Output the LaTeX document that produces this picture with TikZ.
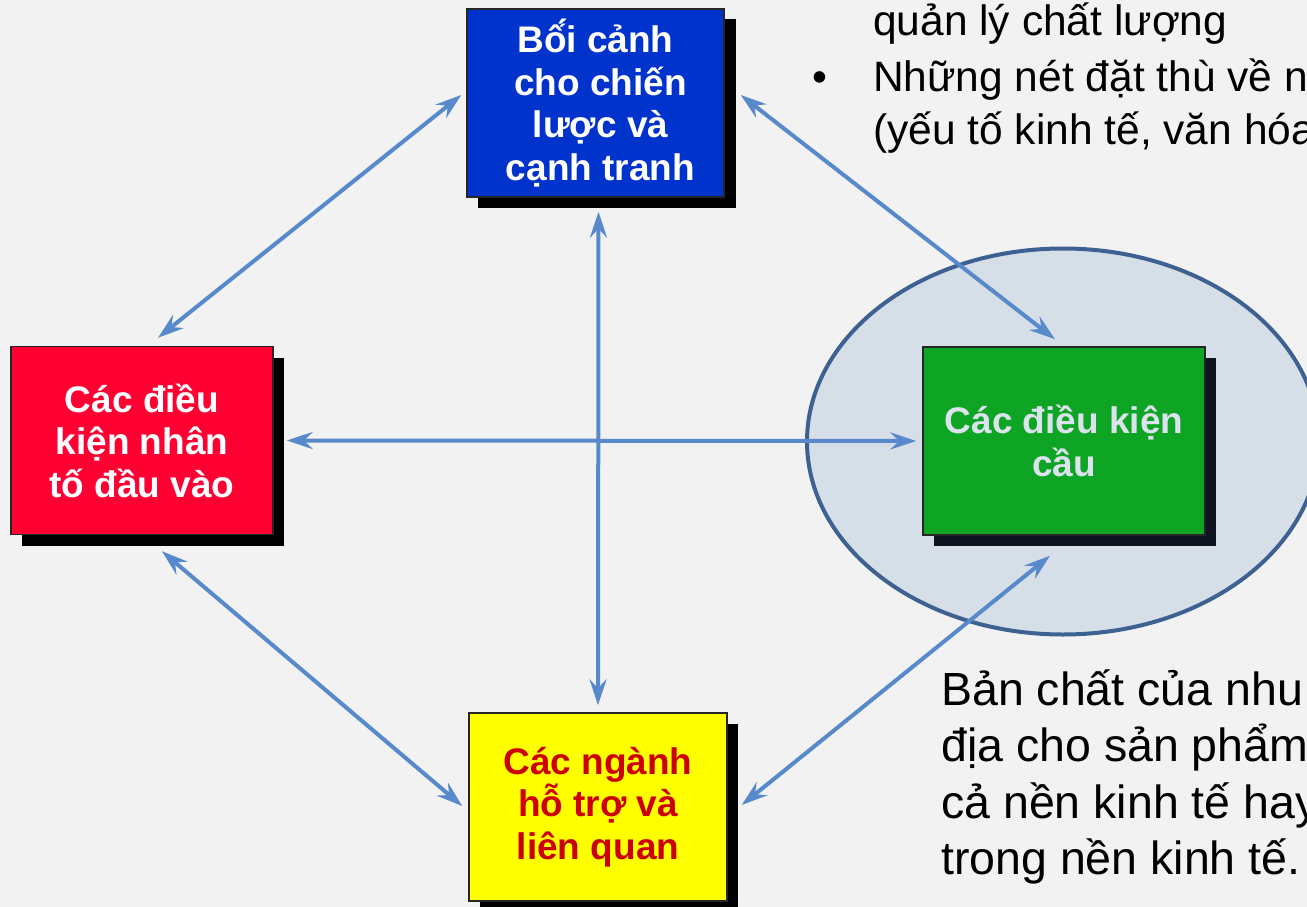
\documentclass[tikz,border=0pt]{standalone}
\usepackage{fontspec}
\setmainfont{Liberation Sans}
\usetikzlibrary{arrows.meta,calc}
\definecolor{bg}{HTML}{F2F2F2}
\definecolor{link}{HTML}{5789CB}
\definecolor{boxblue}{HTML}{0033CC}
\definecolor{boxred}{HTML}{FF0033}
\definecolor{boxyellow}{HTML}{FFFF00}
\definecolor{boxgreen}{HTML}{0DA523}
\definecolor{txtred}{HTML}{CC0000}
\definecolor{txtpale}{HTML}{DCE3EE}
\definecolor{ringfill}{HTML}{D6DEE8}
\definecolor{ringline}{HTML}{3D6292}
\definecolor{shadowblk}{HTML}{000000}
\definecolor{shadownavy}{HTML}{0E1520}
\tikzset{
  factor/.style={draw=black!85, line width=1.5pt, minimum height=188pt,
    align=center, font=\fontsize{37}{42.5}\selectfont\bfseries, inner sep=0pt},
  link/.style={draw=link, line width=4pt,
    {Stealth[length=26pt,width=17pt,inset=9pt]}-{Stealth[length=26pt,width=17pt,inset=9pt]}},
  body/.style={anchor=base west, inner sep=0pt, font=\fontsize{46.5}{56}\selectfont},
  note/.style={anchor=base west, inner sep=0pt, font=\fontsize{42.5}{52}\selectfont}
}
\begin{document}
\begin{tikzpicture}[x=1pt,y=-1pt]
  % canvas
  \fill[bg] (0,0) rectangle (1307,907);
  \useasboundingbox (0,0) rectangle (1307,907);

  % highlighted region round the demand conditions
  \draw[ringline, fill=ringfill, line width=4pt] (1063,441.5) ellipse [x radius=256, y radius=193];

  % drop shadows
  \fill[shadowblk] (478,19) rectangle (736,208);
  \fill[shadowblk] (22,358) rectangle (284,546);
  \fill[shadowblk] (480,724) rectangle (738,912);
  \fill[shadownavy] (934,358) rectangle (1216,546);

  % the four factor boxes
  \node[factor, fill=boxblue, text=white, minimum width=257pt] (ctx) at (595.5,103)
    {B\'{ố}i cảnh\\ \hspace*{10pt}cho chiến\\ \hspace*{10pt}lược và\\ \hspace*{10pt}cạnh tranh};
  \node[factor, fill=boxred, text=white, minimum width=262pt] (inp) at (142,440.5)
    {Các điều\\ kiện nhân\\ tố đầu vào};
  \node[factor, fill=boxyellow, text=txtred, minimum width=258pt] (rel) at (598,807)
    {Các ngành\\ hỗ trợ và\\ liên quan};
  \node[factor, fill=boxgreen, text=txtpale, minimum width=282pt] (dem) at (1064,441)
    {Các điều kiện\\ cầu};

  % two-way links
  \draw[link] ($(ctx.west)+(-5,-8)$) -- ($(inp.north)+(16,-8)$);
  \draw[link] ($(ctx.east)+(16,-8)$) -- ($(dem.north)+(-9,-7)$);
  \draw[link] ($(ctx.south)+(3,14)$) -- ($(rel.north)+(0,-7)$);
  \draw[link] ($(inp.east)+(13,0)$) -- ($(dem.west)+(-6,0)$);
  \draw[link] ($(inp.south)+(20,16)$) -- ($(rel.west)+(-6,-1)$);
  \draw[link] ($(dem.south)+(-14,20)$) -- ($(rel.east)+(14,-2)$);

  % notes
  \node[note] (n1) at (873,36) {quản lý chất lượng};
  \node[note] (nb) at (812,92) {•};
  \node[note] (n2) at (873,92) {Những nét đặt thù về n};
  \node[note] (n3) at (873,144) {(yếu tố kinh tế, văn hóa};

  \node[body] (b1) at (941,705) {Bản chất của nhu};
  \node[body] (b2) at (941,761.5) {địa cho sản phẩm};
  \node[body] (b3) at (941,818) {cả nền kinh tế hay};
  \node[body] (b4) at (941,874) {trong nền kinh tế.};
\end{tikzpicture}
\end{document}
